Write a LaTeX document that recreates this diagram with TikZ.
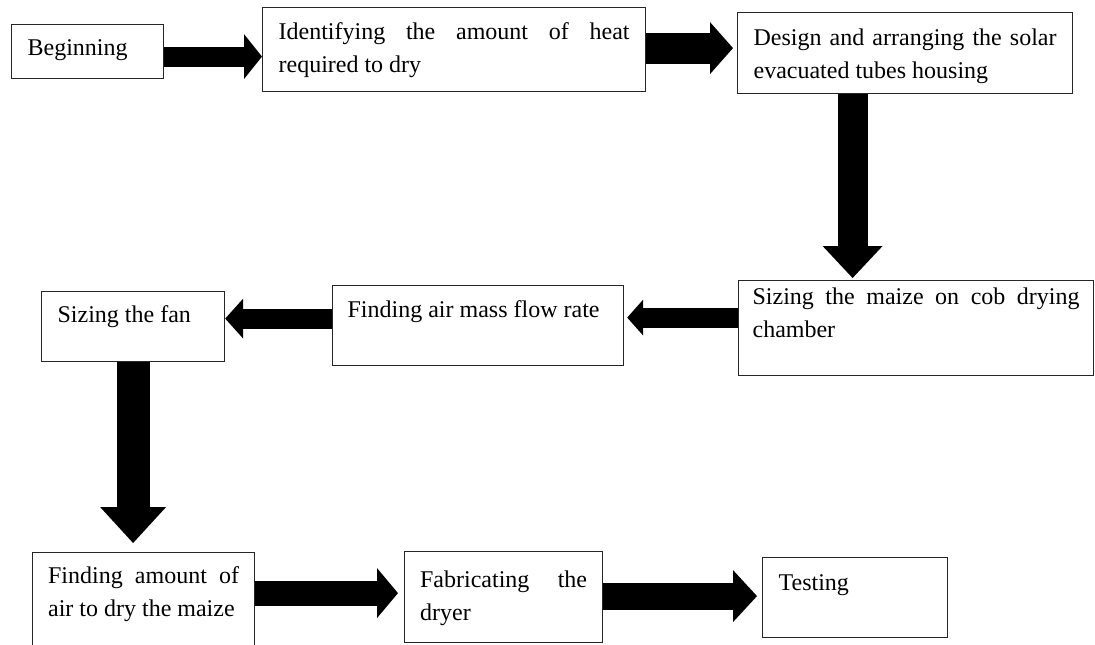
\documentclass[tikz,border=0pt]{standalone}
\usepackage{fontspec}
\setmainfont{Liberation Serif}
\usepackage{tikz}
\usetikzlibrary{arrows.meta}
\hyphenpenalty=10000
\tolerance=10000
\hbadness=10000

\tikzset{
  stepbox/.style={draw=black!85, line width=1.2pt, fill=white, anchor=north west,
    inner ysep=0pt, inner xsep=16pt, align=justify, font=\fontsize{24pt}{33pt}\selectfont},
  flowarrow/.style n args={3}{line width=#1, -{Triangle[length=#2, width=#3, line width=0pt]}}
}

\begin{document}
\begin{tikzpicture}[x=1pt, y=-1pt]
      %\draw [dotted] (0,0) rectangle (1095,645);
      \useasboundingbox (0,0) rectangle (1095,645);
      % boxes, top left corners
      \node [stepbox, text width=120pt, text height=31pt, text depth=23pt] (begin)   at ( 11,  24) {Beginning};
      \node [stepbox, text width=351pt, text height=32pt, text depth=52pt] (heat)    at (262,   7) {Identifying the amount of heat required to dry};
      \node [stepbox, text width=303pt, text height=33pt, text depth=48pt] (housing) at (737,  12) {Design and arranging the solar evacuated tubes housing};
      \node [stepbox, inner xsep=14pt, text width=327pt, text height=24pt, text depth=71pt] (chamber) at (738, 280) {Sizing the maize on cob drying chamber};
      \node [stepbox, inner xsep=15pt, text width=261pt, text height=32pt, text depth=48pt] (flow)    at (332, 285) {Finding air mass flow rate};
      \node [stepbox, text width=151pt, text height=31pt, text depth=39pt] (fan)     at ( 41, 291) {Sizing the fan};
      \node [stepbox, inner xsep=15.5pt, text width=191pt, text height=31pt, text depth=67pt] (air) at ( 32, 552) {Finding amount of air to dry the maize};
      \node [stepbox, inner xsep=15.5pt, text width=167pt, text height=36pt, text depth=55pt] (fab) at (404, 551) {Fabricating the dryer};
      \node [stepbox, text width=153pt, text height=33pt, text depth=47pt] (test)    at (762, 557) {Testing};
      % arrow start points
      \coordinate (a1) at ([yshift=-5pt]begin.east);
      \coordinate (a2) at ([yshift=1.5pt]heat.east);
      \coordinate (a3) at ([xshift=-52.5pt]housing.south);
      \coordinate (a4) at ([yshift=10.5pt]chamber.west);
      \coordinate (a5) at ([yshift=7pt]flow.west);
      \coordinate (a7) at ([yshift=8.5pt]air.east);
      \coordinate (a8) at ([yshift=1pt]fab.east);
      \draw [flowarrow={20pt}{18pt}{45pt}] (a1) -- (a1 -| heat.west);
      \draw [flowarrow={31pt}{23pt}{52pt}, shorten >=4pt] (a2) -- (a2 -| housing.west);
      \draw [flowarrow={30pt}{32pt}{60pt}, shorten >=2pt] (a3) -- (a3 |- chamber.north);
      \draw [flowarrow={20pt}{16pt}{36pt}, shorten >=3pt] (a4) -- (a4 -| flow.east);
      \draw [flowarrow={20pt}{18pt}{40pt}] (a5) -- (a5 -| fan.east);
      \draw [flowarrow={33pt}{36pt}{66pt}, shorten >=9pt] (fan.south) -- (fan.south |- air.north);
      \draw [flowarrow={25pt}{21pt}{50pt}, shorten >=6pt] (a7) -- (a7 -| fab.west);
      \draw [flowarrow={27pt}{24pt}{52pt}, shorten >=5pt] (a8) -- (a8 -| test.west);
\end{tikzpicture}
\end{document}
